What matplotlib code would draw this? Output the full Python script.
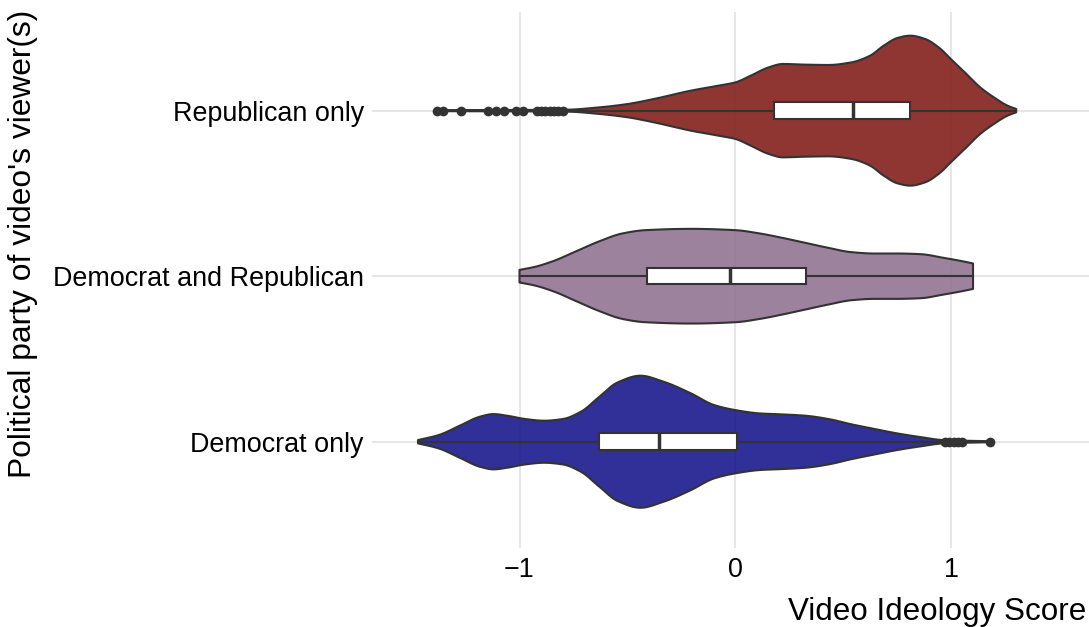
import numpy as np
import matplotlib
matplotlib.use("Agg")
import matplotlib.pyplot as plt
from matplotlib.patches import Rectangle

plt.rcParams["font.family"] = ["Liberation Sans", "DejaVu Sans"]

# ---- data -------------------------------------------------------------
parties = ["Democrat only", "Democrat and Republican", "Republican only"]
fill_colors = ["#19198d", "#917493", "#83201d"]

# violin outlines: ideology score and half-width (category units)
dem_x = [-1.47, -1.375, -1.27, -1.184, -1.12, -1.057, -0.972, -0.886, -0.80,
         -0.716, -0.63, -0.546, -0.44, -0.334, -0.206, -0.10, 0.0, 0.113,
         0.219, 0.325, 0.431, 0.538, 0.644, 0.75, 0.857, 0.963, 1.18]
dem_w = [0.010, 0.040, 0.101, 0.151, 0.167, 0.157, 0.137, 0.127, 0.137,
         0.181, 0.272, 0.358, 0.399, 0.363, 0.292, 0.222, 0.191, 0.171,
         0.165, 0.157, 0.137, 0.105, 0.077, 0.050, 0.028, 0.010, 0.003]

both_x = [-1.0, -0.93, -0.844, -0.737, -0.63, -0.524, -0.418, -0.206, 0.0,
          0.113, 0.219, 0.325, 0.431, 0.538, 0.644, 0.75, 0.857, 0.963,
          1.048, 1.10]
both_w = [0.038, 0.056, 0.091, 0.151, 0.211, 0.258, 0.278, 0.286, 0.278,
          0.258, 0.231, 0.201, 0.171, 0.145, 0.137, 0.137, 0.133, 0.111,
          0.091, 0.077]

rep_x = [-1.384, -0.78, -0.63, -0.50, -0.376, -0.206, -0.079, 0.0, 0.07,
         0.155, 0.219, 0.325, 0.431, 0.538, 0.623, 0.687, 0.75, 0.81, 0.878,
         0.94, 1.005, 1.069, 1.133, 1.197, 1.26, 1.30]
rep_w = [0.003, 0.006, 0.020, 0.040, 0.071, 0.121, 0.151, 0.171, 0.211,
         0.262, 0.282, 0.278, 0.276, 0.292, 0.332, 0.393, 0.439, 0.453,
         0.433, 0.383, 0.302, 0.222, 0.141, 0.080, 0.030, 0.010]

# box statistics: lower whisker, q1, median, q3, upper whisker
dem_box = [-1.47, -0.631, -0.355, 0.006, 0.96]
both_box = [-1.0, -0.408, -0.026, 0.325, 1.10]
rep_box = [-0.78, 0.179, 0.542, 0.810, 1.30]

dem_outliers = [0.97, 0.99, 1.01, 1.03, 1.05, 1.18]
both_outliers = []
rep_outliers = [-1.384, -1.356, -1.273, -1.146, -1.109, -1.073, -1.018,
                -0.982, -0.92, -0.90, -0.88, -0.86, -0.84, -0.82, -0.80]

score_ticks = [-1, 0, 1]


def smooth_outline(x, w, per_seg=12):
    """Monotone cubic (PCHIP) curve through the outline points, for drawing."""
    x = np.asarray(x, float)
    w = np.asarray(w, float)
    h = np.diff(x)
    delta = np.diff(w) / h
    n = len(x)
    d = np.zeros(n)
    for k in range(1, n - 1):
        if delta[k - 1] * delta[k] > 0:
            w1 = 2 * h[k] + h[k - 1]
            w2 = h[k] + 2 * h[k - 1]
            d[k] = (w1 + w2) / (w1 / delta[k - 1] + w2 / delta[k])
    d[0] = delta[0]
    d[-1] = delta[-1]
    xs, ws = [], []
    for k in range(n - 1):
        t = np.linspace(0, 1, per_seg, endpoint=False)
        h00 = 2 * t**3 - 3 * t**2 + 1
        h10 = t**3 - 2 * t**2 + t
        h01 = -2 * t**3 + 3 * t**2
        h11 = t**3 - t**2
        xs.append(x[k] + t * h[k])
        ws.append(h00 * w[k] + h10 * h[k] * d[k] + h01 * w[k + 1] + h11 * h[k] * d[k + 1])
    xs.append([x[-1]])
    ws.append([w[-1]])
    return np.concatenate(xs), np.maximum(np.concatenate(ws), 0)


# ---- figure -----------------------------------------------------------
W, H = 1089, 627
fig = plt.figure(figsize=(W / 100, H / 100), dpi=100)
ax = fig.add_axes([372 / W, 1 - 548 / H, 1 - 372 / W, (548 - 12) / H])

edge = "#333333"
violins = [(dem_x, dem_w), (both_x, both_w), (rep_x, rep_w)]
boxes = [dem_box, both_box, rep_box]
outliers = [dem_outliers, both_outliers, rep_outliers]
box_half = 0.05

for i, ((vx, vw), box, outs, col) in enumerate(zip(violins, boxes, outliers, fill_colors)):
    y = i + 1
    sx, sw = smooth_outline(vx, vw)
    xs = np.concatenate([sx, sx[::-1]])
    ys = np.concatenate([y + sw, (y - sw)[::-1]])
    ax.fill(xs, ys, facecolor=col, alpha=0.9, edgecolor="none", zorder=2)
    ax.fill(xs, ys, facecolor="none", edgecolor=edge, lw=1.5, zorder=3,
            joinstyle="round")

    lo, q1, med, q3, hi = box
    ax.plot([lo, q1], [y, y], color=edge, lw=1.5, zorder=4, solid_capstyle="butt")
    ax.plot([q3, hi], [y, y], color=edge, lw=1.5, zorder=4, solid_capstyle="butt")
    ax.add_patch(Rectangle((q1, y - box_half), q3 - q1, 2 * box_half,
                           facecolor="white", edgecolor=edge, lw=1.5, zorder=5))
    ax.plot([med, med], [y - box_half, y + box_half], color=edge, lw=2.5,
            zorder=6, solid_capstyle="butt")
    if outs:
        ax.plot(outs, [y] * len(outs), "o", color=edge, ms=7, mew=0, zorder=6)

ax.set_xlim(-1.683, 1.637)
ax.set_ylim(0.358, 3.596)
ax.set_xticks(score_ticks)
ax.set_xticklabels([f"{t}".replace("-", "\u2212") for t in score_ticks])
ax.set_yticks([1, 2, 3])
ax.set_yticklabels(parties)
ax.tick_params(axis="both", length=0, labelsize=19.4, colors="black")
ax.tick_params(axis="x", pad=6.5)
ax.tick_params(axis="y", pad=5.8)
ax.grid(True, color="#e6e6e6", lw=1.4, zorder=0)
ax.set_axisbelow(True)
for s in ax.spines.values():
    s.set_visible(False)

fig.text(1086 / W, 1 - 620 / H, "Video Ideology Score", fontsize=22.6,
         ha="right", va="baseline")
fig.text(23 / W, 1 - 244 / H, "Political party of video's viewer(s)",
         fontsize=22.9, rotation=90, ha="center", va="center")

fig.savefig("out.png", dpi=100)
